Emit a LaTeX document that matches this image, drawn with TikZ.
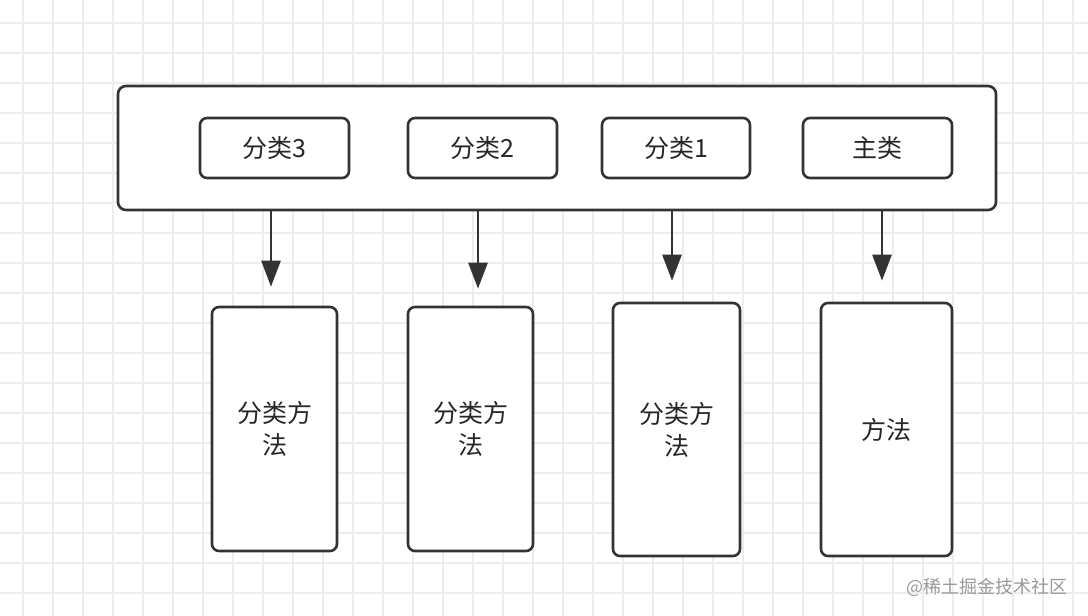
\documentclass[tikz,border=0pt]{standalone}
\usepackage{fontspec}
\newfontfamily\cjk{Noto Sans CJK SC}
\usetikzlibrary{arrows.meta}
\definecolor{gridc}{HTML}{EDEDED}
\definecolor{linec}{HTML}{333333}
\tikzset{
  box/.style={draw=linec, line width=2.6pt, rounded corners=7pt, fill=white, inner sep=0pt,
    font=\cjk\fontsize{25}{32}\selectfont, text=black!85, align=center},
  arr/.style={draw=linec, line width=2.6pt, -{Triangle[length=26pt,width=19pt]}}
}
\begin{document}
\begin{tikzpicture}[x=1pt,y=-1pt]
\useasboundingbox (0,0) rectangle (1088,616);
\fill[white] (0,0) rectangle (1088,616);
\foreach \i in {0,...,35} \draw[gridc, line width=1.2pt] (23+30*\i,0) -- (23+30*\i,616);
\foreach \j in {0,...,20} \draw[gridc, line width=1.2pt] (0,23+30*\j) -- (1088,23+30*\j);
% outer
\node[box, minimum width=878pt, minimum height=124pt, rounded corners=8pt] (outer) at (557,148) {};
% top boxes
\node[box, minimum width=149pt, minimum height=60pt] (t3) at (274.5,148) {分类3};
\node[box, minimum width=149pt, minimum height=60pt] (t2) at (482.5,148) {分类2};
\node[box, minimum width=148pt, minimum height=60pt] (t1) at (676,148) {分类1};
\node[box, minimum width=149pt, minimum height=60pt] (t0) at (877.5,148) {主类};
% bottom boxes
\node[box, minimum width=125pt, minimum height=244pt] (b3) at (274.5,429) {分类方\\法};
\node[box, minimum width=125pt, minimum height=244pt] (b2) at (470.5,429) {分类方\\法};
\node[box, minimum width=127pt, minimum height=253pt] (b1) at (676.5,429.5) {分类方\\法};
\node[box, minimum width=131pt, minimum height=253pt] (b0) at (886.5,429.5) {方法};
% arrows
\draw[arr, shorten >=19pt] ([xshift=-3.5pt]outer.south -| b3.north) -- ([xshift=-3.5pt]b3.north);
\draw[arr, shorten >=17pt] ([xshift=7.5pt]outer.south -| b2.north) -- ([xshift=7.5pt]b2.north);
\draw[arr, shorten >=21pt] ([xshift=-4.5pt]outer.south -| b1.north) -- ([xshift=-4.5pt]b1.north);
\draw[arr, shorten >=21pt] ([xshift=-4.5pt]outer.south -| b0.north) -- ([xshift=-4.5pt]b0.north);
% watermark
\node[font=\cjk\fontsize{18}{20}\selectfont, text=black!40, anchor=east] (wm) at (1071,587) {@稀土掘金技术社区};
\end{tikzpicture}
\end{document}
